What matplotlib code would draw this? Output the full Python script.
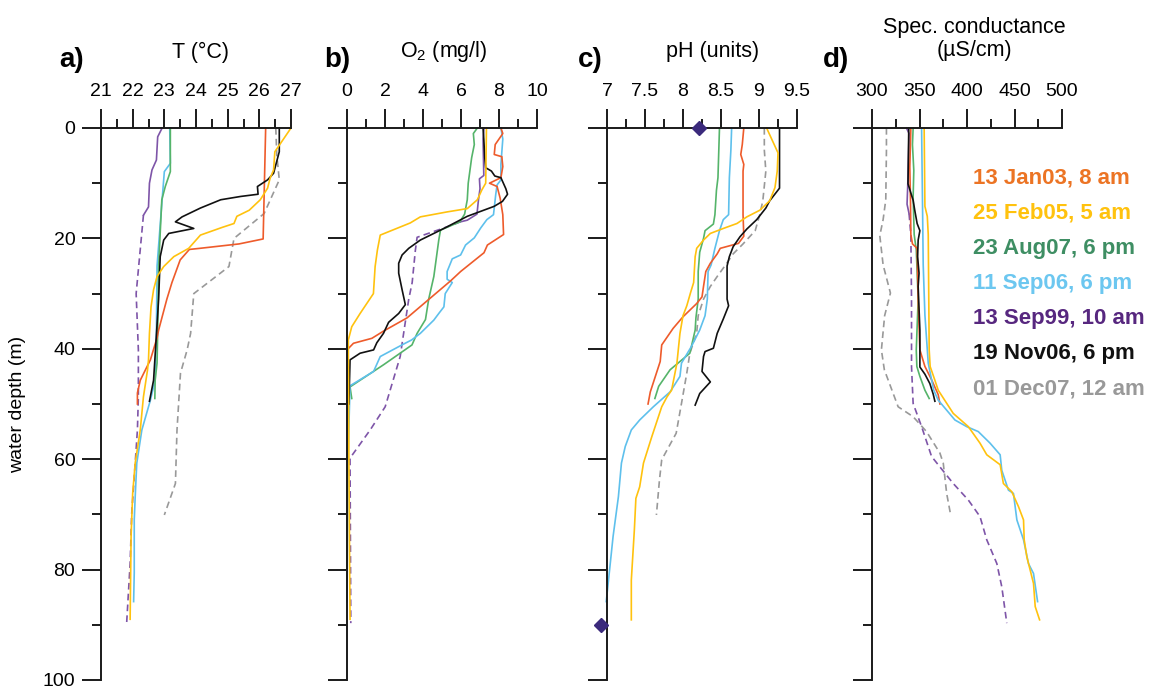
import matplotlib
matplotlib.use("Agg")
import matplotlib.pyplot as plt
from matplotlib.ticker import MultipleLocator, FuncFormatter

plt.rcParams['font.family'] = ['Liberation Sans', 'DejaVu Sans']
plt.rcParams['mathtext.fontset'] = 'custom'
plt.rcParams['mathtext.rm'] = 'Liberation Sans'
plt.rcParams['mathtext.it'] = 'Liberation Sans:italic'
plt.rcParams['mathtext.bf'] = 'Liberation Sans:bold'

# ---------------- data: (depth m, value) ----------------
# a) Temperature (°C)
T_jan03 = [(0, 26.2), (20.1, 26.12), (21, 25.36), (21.8, 24.12), (22, 23.79), (23.9, 23.5), (28, 23.24),
           (31, 23.08), (36.6, 22.82), (38, 22.77), (42, 22.56), (45.7, 22.24), (48, 22.15), (50, 22.15)]
T_feb05 = [(0, 27.0), (4.3, 26.49), (7.6, 26.45), (9.1, 26.34), (10.9, 26.26), (13, 26.03), (14.9, 25.68),
           (16, 25.29), (17.3, 25.2), (18, 24.83), (19.4, 24.14), (21.8, 23.77), (23.3, 23.3), (25.1, 22.98),
           (26.9, 22.77), (29.3, 22.66), (32.4, 22.58), (37.2, 22.53), (42, 22.5), (43.8, 22.47), (48.7, 22.34),
           (54.7, 22.24), (60.7, 22.08), (66.2, 22.0), (74, 21.95), (89, 21.92)]
T_aug07 = [(0, 23.19), (7.9, 23.19), (10.6, 23.03), (13, 22.92), (19, 22.87), (25.1, 22.82), (37, 22.79),
           (42.6, 22.77), (45.7, 22.71), (49, 22.7)]
T_sep06 = [(0, 23.17), (6.4, 23.19), (7.9, 23.0), (13, 22.93), (25, 22.77), (37, 22.75), (45.7, 22.71),
           (49.3, 22.56), (54.7, 22.29), (60.7, 22.13), (66.8, 22.08), (71, 22.05), (80.6, 22.05), (85.8, 22.03)]
T_sep99 = [(0, 22.93), (1.6, 22.79), (5.8, 22.75), (6.7, 22.68), (7.6, 22.61), (10, 22.53), (14.3, 22.5),
           (15.8, 22.34), (30, 22.11), (40.2, 22.18), (48.7, 22.18), (54.7, 22.15), (60.7, 22.08), (69.8, 21.97),
           (78.9, 21.92), (89.7, 21.81)]
T_nov06 = [(0, 26.63), (4.3, 26.63), (8.2, 26.45), (9.4, 26.26), (10.6, 25.94), (12, 25.96), (12.4, 25.41),
           (13, 24.78), (14.5, 24.14), (16.1, 23.56), (17, 23.35), (18.2, 23.93), (19.1, 23.14), (20.3, 22.98),
           (23.3, 22.87), (31, 22.82), (45.7, 22.66), (49.5, 22.53)]
T_dec07 = [(0, 26.52), (4.8, 26.55), (9.4, 26.63), (15.5, 26.15), (20, 25.2), (25.1, 25.04), (30, 23.93),
           (37.2, 23.83), (40.2, 23.72), (44.4, 23.51), (54.7, 23.40), (64.4, 23.35), (70.1, 23.0)]

# b) Dissolved oxygen (mg/l)
O_jan03 = [(0, 8.1), (1, 8.2), (3, 7.8), (4.8, 7.75), (5.2, 8.15), (7, 8.2), (9, 8.1), (10, 7.5), (10.6, 7.9),
           (12.7, 8.06), (15.7, 8.2), (19.3, 8.24), (21.2, 7.39), (22.6, 7.21), (26, 5.98), (27.7, 5.45),
           (30.8, 4.39), (34.4, 3.16), (36.8, 1.92), (38.1, 1.31), (39, 0.34), (40.2, 0.0), (50, 0.0)]
O_feb05 = [(0, 7.34), (10, 7.3), (11.2, 7.1), (13, 6.86), (14.6, 6.33), (15.2, 5.27), (16.1, 3.86),
           (17.2, 3.33), (19.4, 1.75), (22.1, 1.6), (25.1, 1.48), (30, 1.39), (31.8, 1.04), (33.6, 0.69),
           (36, 0.25), (38.4, 0.07), (60, 0.1), (89, 0.16)]
O_aug07 = [(0, 6.86), (1, 6.65), (3, 6.7), (5.4, 6.56), (10, 6.38), (13, 6.33), (15.6, 6.19), (17, 5.94),
           (18.5, 4.92), (20.3, 4.83), (26.9, 4.57), (31, 4.3), (34.7, 4.13), (37.2, 3.69), (39.3, 3.42),
           (42.9, 1.92), (46.9, 0.16), (49, 0.25)]
O_sep06 = [(0, 8.1), (2, 8.2), (6.6, 8.1), (9.4, 8.1), (10.3, 7.9), (12, 7.83), (15.7, 7.71), (16.6, 7.36),
           (18.1, 7.04), (19.9, 6.7), (21.2, 6.24), (23, 5.98), (23.7, 5.54), (26, 5.27), (27.4, 5.27),
           (28, 5.54), (30, 5.17), (32.4, 5.1), (33.6, 4.83), (34.8, 4.57), (37.2, 3.86), (38.4, 3.4),
           (39.3, 2.89), (41.4, 1.75), (44.1, 1.4), (46.7, 0.16), (60, 0.05), (85.8, 0.0)]
O_sep99 = [(0, 7.21), (2, 7.16), (8.6, 7.2), (9.2, 6.97), (11, 7.0), (13, 6.92), (15.6, 6.84), (16.7, 6.33),
           (17, 5.97), (17.9, 5.27), (19.8, 3.69), (22.1, 3.6), (28, 3.43), (31, 3.25), (37.2, 2.98),
           (41.4, 2.8), (44.4, 2.54), (50.5, 2.01), (54.7, 1.22), (59.8, 0.16), (89.7, 0.2)]
O_nov06 = [(0, 7.16), (2, 7.2), (5.4, 7.25), (7.2, 7.3), (7.8, 7.6), (8.7, 7.78), (9, 8.1), (11, 8.36),
           (12, 8.45), (13.3, 8.18), (14.2, 7.74), (16, 6.33), (17.9, 5.27), (19.1, 4.57), (20.3, 3.86),
           (21.8, 3.25), (23, 2.9), (24.5, 2.72), (26.3, 2.72), (29.3, 2.9), (32, 3.07), (33.6, 2.72),
           (35.2, 2.19), (37.2, 1.92), (38.9, 1.57), (40.2, 1.4), (40.8, 0.69), (42, 0.16), (50, 0.1)]

# c) pH (units)
pH_jan03 = [(0, 8.8), (3, 8.78), (4.8, 8.76), (6.6, 8.8), (7.8, 8.79), (15.7, 8.79), (19.6, 8.8), (20.9, 8.73),
            (21.8, 8.49), (22.8, 8.45), (24.5, 8.36), (26, 8.3), (28.7, 8.27), (30.6, 8.25), (31.8, 8.18),
            (34.2, 8.0), (36.3, 7.87), (39.3, 7.72), (42.3, 7.7), (47.8, 7.57), (50, 7.54)]
pH_feb05 = [(0, 9.1), (3.3, 9.21), (4.5, 9.25), (7.8, 9.24), (10.8, 9.21), (13.2, 9.14), (14.9, 9.01),
            (16.1, 8.84), (17.3, 8.71), (18.2, 8.53), (19.1, 8.36), (20.3, 8.27), (21.8, 8.18), (23.3, 8.16),
            (28, 8.14), (29.8, 8.1), (32.2, 8.05), (34, 8.0), (37.2, 7.96), (42.6, 7.92), (47.5, 7.85),
            (48.7, 7.79), (50.5, 7.72), (55.9, 7.59), (60.7, 7.48), (65, 7.43), (67.1, 7.38), (72.8, 7.36),
            (81.9, 7.32), (89.1, 7.32)]
pH_aug07 = [(0, 8.48), (9, 8.46), (11.3, 8.44), (15.7, 8.42), (17.4, 8.4), (18.6, 8.29), (20, 8.27),
            (22.5, 8.22), (26, 8.2), (31, 8.2), (34.4, 8.17), (36.6, 8.16), (40.8, 8.09), (43.8, 7.83),
            (46.8, 7.68), (49, 7.63)]
pH_sep06 = [(0, 8.64), (4, 8.63), (9, 8.61), (15.7, 8.6), (16.6, 8.53), (18.6, 8.48), (21.8, 8.42),
            (24.8, 8.37), (26, 8.33), (31, 8.32), (34, 8.29), (36.6, 8.22), (39.6, 8.11), (42.6, 7.98),
            (45, 7.96), (47.8, 7.83), (50.5, 7.61), (52.9, 7.43), (54.7, 7.32), (57.7, 7.24), (60.7, 7.19),
            (66.8, 7.15), (74, 7.08), (81.9, 7.02), (85.8, 6.99)]
pH_nov06 = [(0, 9.27), (10.9, 9.27), (13.2, 9.14), (14.5, 9.09), (16.6, 8.97), (18.3, 8.84), (19.7, 8.75),
            (21.5, 8.66), (23.3, 8.61), (25, 8.58), (31, 8.58), (32.2, 8.6), (34.6, 8.53), (37.2, 8.45),
            (39.9, 8.4), (40.5, 8.29), (41.4, 8.27), (44.1, 8.25), (46, 8.36), (48.1, 8.22), (50.2, 8.16)]
pH_dec07 = [(0, 9.07), (4, 9.07), (7.8, 9.09), (13.2, 9.05), (15.7, 9.01), (18.6, 8.95), (21, 8.79),
            (22.8, 8.66), (25, 8.55), (26.9, 8.45), (28.7, 8.36), (31, 8.27), (34, 8.2), (37.2, 8.18),
            (40.8, 8.09), (44.4, 8.05), (49.9, 7.98), (55.3, 7.91), (60.1, 7.72), (63.8, 7.69), (70.1, 7.65)]
pH_sep99_points = [(0, 8.21), (90, 6.92)]

# d) Specific conductance (µS/cm)
C_jan03 = [(0, 340.9), (7.1, 339.8), (13.2, 340.5), (19.3, 340.9), (21, 342.6), (21.8, 347.5), (31.2, 348.6),
           (40.2, 350.4), (43.2, 355.7), (45.6, 362.7), (48.3, 369.7), (50, 371.5)]
C_feb05 = [(0, 354.9), (14.2, 355.7), (16, 358.2), (19.3, 359.2), (40.2, 360.2), (43.2, 361.2), (45.6, 366),
           (47.5, 369.7), (51.7, 385.5), (54.1, 401.4), (57.1, 413.7), (59.2, 420.8), (61, 434.9), (64.4, 438.3),
           (65.9, 447.2), (68.6, 454.2), (71, 459.5), (74.6, 460.2), (77.7, 463), (82.5, 470), (86.7, 471.8),
           (89.1, 476.4)]
C_aug07 = [(0, 343.3), (3, 342.6), (7.7, 344), (12.5, 343.3), (19.3, 344.4), (22.1, 346.6), (31, 348.6),
           (40.2, 346.6), (43.2, 347.2), (45, 350.4), (47.5, 355.7), (49, 360.2)]
C_sep06 = [(0, 352.2), (14.2, 353.2), (24.8, 353.9), (33.9, 355.7), (42.6, 359.2), (45.6, 362.7), (47.5, 365),
           (49.3, 369.7), (52.9, 387.3), (54.1, 399.7), (55, 411.9), (57.1, 424.3), (59.2, 434.9), (62, 436.6),
           (65.6, 443.6), (66.2, 448.9), (71, 452.5), (74.6, 459.5), (78.9, 464.7), (80.7, 470), (85.8, 474.3)]
C_sep99 = [(0, 336.3), (1, 339), (9, 337.9), (13.8, 336.9), (15.5, 339), (19.3, 340.9), (31, 341.6),
           (43.2, 341.6), (49.9, 343.3), (54.1, 352.2), (59.5, 362.7), (61.4, 371.5), (64.4, 385.5), (67.4, 401.4),
           (70.4, 413.7), (74.6, 420.8), (78.9, 431.4), (83.1, 436.6), (89.7, 441.9)]
C_nov06 = [(0, 338.7), (10.1, 337.9), (13.1, 343.3), (14.9, 345), (17.3, 347.5), (18.6, 350.4), (20.3, 348.6),
           (23.3, 348), (26.3, 349.5), (28.7, 348.6), (36.6, 350.4), (43.3, 350.4), (44.6, 355.7), (46.3, 360.9),
           (48.2, 364.4), (49.5, 366.2)]
C_dec07 = [(0, 315.2), (4, 315.2), (13, 314.5), (16.6, 311.7), (19.5, 308.2), (24.8, 311.7), (29.9, 319.4),
           (34, 313.3), (40.2, 309.9), (43.8, 313), (50.5, 327.5), (52.3, 343.3), (55, 357.4), (58.9, 371.5),
           (60.7, 375), (66.2, 378.6), (70.1, 382.8)]

legend_labels = ["13 Jan03, 8 am", "25 Feb05, 5 am", "23 Aug07, 6 pm", "11 Sep06, 6 pm",
                 "13 Sep99, 10 am", "19 Nov06, 6 pm", "01 Dec07, 12 am"]
panel_titles = ["T (°C)", "O$_{2}$ (mg/l)", "pH (units)", "Spec. conductance\n(µS/cm)"]
panel_letters = ["a)", "b)", "c)", "d)"]

# ---------------- styles ----------------
LINE_COL = {"jan03": "#EE5B2B", "feb05": "#FFC20E", "aug07": "#55B46A", "sep06": "#5EC0EC",
            "sep99": "#7E55A8", "nov06": "#111111", "dec07": "#999999"}
TEXT_COL = ["#EC7424", "#FFC20E", "#3E8E63", "#6CC7F0", "#57277F", "#111111", "#999999"]

W, H = 1150, 686
fig = plt.figure(figsize=(W / 100, H / 100), dpi=100)

ax_left = [101, 347, 607, 872]
ax_w, ax_top, ax_bot = 190, 128, 680
xlims = [(21, 27), (0, 10), (7, 9.5), (300, 500)]
xmaj = [1, 2, 0.5, 50]
xmin_ = [0.5, 1, 0.25, 25]
fmt = FuncFormatter(lambda v, p: f"{v:g}")

axes = []
for i in range(4):
    ax = fig.add_axes([ax_left[i] / W, 1 - ax_bot / H, ax_w / W, (ax_bot - ax_top) / H])
    ax.set_xlim(*xlims[i])
    ax.set_ylim(100, 0)
    for s in ("bottom", "right"):
        ax.spines[s].set_visible(False)
    for s in ("top", "left"):
        ax.spines[s].set_linewidth(1.4)
        ax.spines[s].set_color("#1a1a1a")
    ax.xaxis.set_ticks_position("top")
    ax.xaxis.set_major_locator(MultipleLocator(xmaj[i]))
    ax.xaxis.set_minor_locator(MultipleLocator(xmin_[i]))
    ax.xaxis.set_major_formatter(fmt)
    ax.yaxis.set_major_locator(MultipleLocator(20))
    ax.yaxis.set_minor_locator(MultipleLocator(10))
    ax.tick_params(which="major", direction="out", length=13.5, width=1.4, color="#1a1a1a",
                   labelsize=14, pad=5)
    ax.tick_params(which="minor", direction="out", length=6.5, width=1.4, color="#1a1a1a")
    ax.tick_params(axis="x", which="major", pad=7)
    if i > 0:
        ax.tick_params(axis="y", labelleft=False)
    axes.append(ax)

axes[0].set_ylabel("water depth (m)", fontsize=14, labelpad=12)


def draw(ax, pts, key, dashed=False, solid_to=None):
    d = [p[0] for p in pts]
    v = [p[1] for p in pts]
    col = LINE_COL[key]
    if solid_to is not None:
        n = max(i for i, x in enumerate(d) if x <= solid_to)
        ax.plot(v[:n + 1], d[:n + 1], color=col, lw=1.2, clip_on=False)
        ax.plot(v[n:], d[n:], color=col, lw=1.2, ls=(0, (4, 2.5)), clip_on=False)
    else:
        ax.plot(v, d, color=col, lw=1.2, ls=(0, (4, 2.5)) if dashed else "-", clip_on=False)


ax = axes[0]
draw(ax, T_dec07, "dec07", dashed=True)
draw(ax, T_sep99, "sep99", solid_to=15.8)
draw(ax, T_sep06, "sep06")
draw(ax, T_aug07, "aug07")
draw(ax, T_jan03, "jan03")
draw(ax, T_nov06, "nov06")
draw(ax, T_feb05, "feb05")

ax = axes[1]
draw(ax, O_sep99, "sep99", solid_to=17)
draw(ax, O_aug07, "aug07")
draw(ax, O_sep06, "sep06")
draw(ax, O_jan03, "jan03")
draw(ax, O_nov06, "nov06")
draw(ax, O_feb05, "feb05")

ax = axes[2]
draw(ax, pH_dec07, "dec07", dashed=True)
draw(ax, pH_aug07, "aug07")
draw(ax, pH_sep06, "sep06")
draw(ax, pH_jan03, "jan03")
draw(ax, pH_nov06, "nov06")
draw(ax, pH_feb05, "feb05")
ax.plot([p[1] for p in pH_sep99_points], [p[0] for p in pH_sep99_points], ls="none", marker="D",
        ms=7.5, color="#3B2A7C", clip_on=False, zorder=5)

ax = axes[3]
draw(ax, C_dec07, "dec07", dashed=True)
draw(ax, C_sep99, "sep99", solid_to=15.5)
draw(ax, C_aug07, "aug07")
draw(ax, C_jan03, "jan03")
draw(ax, C_nov06, "nov06")
draw(ax, C_sep06, "sep06")
draw(ax, C_feb05, "feb05")

# titles and letters
title_x = [200, 444, 713, 974]
for i in range(4):
    if i < 3:
        fig.text(title_x[i] / W, 1 - 52 / H, panel_titles[i], ha="center", va="center", fontsize=15.5)
    else:
        fig.text(title_x[i] / W, 1 - 39 / H, panel_titles[i], ha="center", va="center", fontsize=15.5,
                 linespacing=1.15)
letter_x = [72, 337, 590, 836]
for i in range(4):
    fig.text(letter_x[i] / W, 1 - 60 / H, panel_letters[i], ha="center", va="center", fontsize=20,
             fontweight="bold")

# legend as coloured text
for k, (lab, col) in enumerate(zip(legend_labels, TEXT_COL)):
    fig.text(973 / W, 1 - (178 + 35.2 * k) / H, lab, ha="left", va="center", fontsize=16,
             fontweight="bold", color=col)

fig.savefig("out.png", dpi=100)
